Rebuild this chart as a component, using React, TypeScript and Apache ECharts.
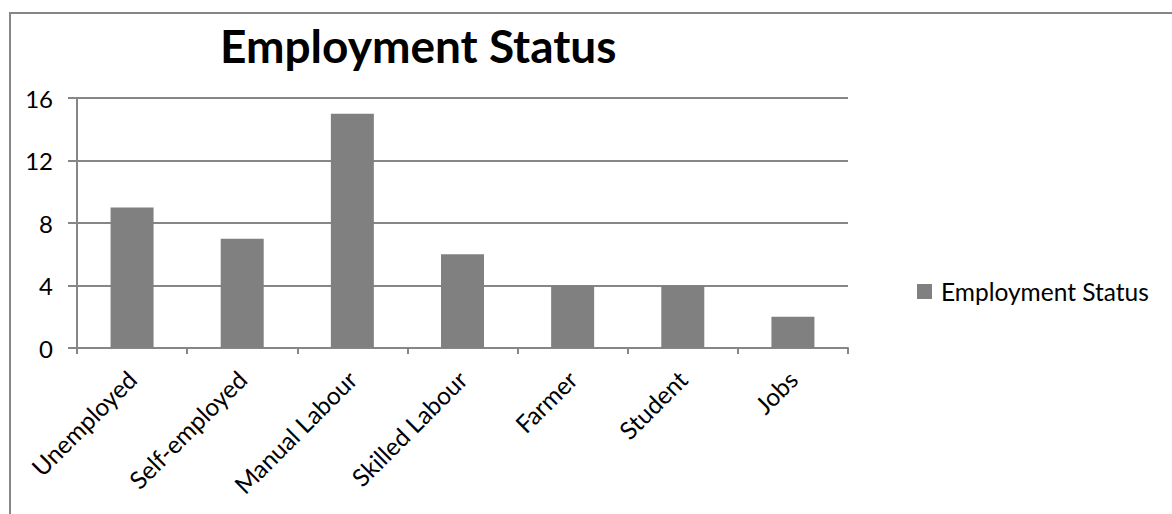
import React, { useEffect, useRef } from "react";
import * as echarts from "echarts";

const categories = ["Unemployed", "Self-employed", "Manual Labour", "Skilled Labour", "Farmer", "Student", "Jobs"];
const values = [9, 7, 15, 6, 4, 4, 2];
const seriesName = "Employment Status";
const titleText = "Employment Status";

const FONT = "Lato, 'Open Sans', sans-serif";
const GRAY = "#868686";

export default function App() {
  const ref = useRef<HTMLDivElement>(null);
  useEffect(() => {
    document.body.style.margin = "0";
    const chart = echarts.init(ref.current!, null, { renderer: "svg" });
    chart.setOption({
      animation: false,
      backgroundColor: "#ffffff",
      textStyle: { fontFamily: FONT },
      title: {
        text: titleText,
        left: 220,
        top: 22,
        padding: 0,
        textStyle: { fontFamily: FONT, fontWeight: "bold", fontSize: 46, color: "#000" },
      },
      graphic: [
        {
          type: "polyline",
          shape: { points: [[10, 520], [10, 13], [1180, 13]] },
          style: { stroke: GRAY, lineWidth: 2, fill: "none" },
          silent: true,
        },
      ],
      legend: {
        data: [seriesName],
        left: 912,
        top: 274,
        itemWidth: 15,
        itemHeight: 15,
        icon: "rect",
        textStyle: { fontFamily: FONT, fontSize: 24.5, color: "#000", padding: [0, 0, 0, 4] },
      },
      grid: { left: 77, right: 324, top: 98, bottom: 166, containLabel: false },
      xAxis: {
        type: "category",
        data: categories,
        axisLine: { show: true, lineStyle: { color: GRAY, width: 2 } },
        axisTick: { show: true, length: 6, lineStyle: { color: GRAY, width: 2 } },
        axisLabel: { rotate: 45, fontFamily: FONT, fontSize: 24.5, color: "#000", margin: 27, interval: 0 },
        splitLine: { show: false },
      },
      yAxis: {
        type: "value",
        min: 0,
        max: 16,
        interval: 4,
        axisLine: { show: true, lineStyle: { color: GRAY, width: 2 } },
        axisTick: { show: true, length: 9, lineStyle: { color: GRAY, width: 2 } },
        axisLabel: { fontFamily: FONT, fontSize: 24, color: "#000", margin: 24 },
        splitLine: { show: true, lineStyle: { color: GRAY, width: 2 } },
      },
      series: [
        {
          name: seriesName,
          type: "bar",
          data: values,
          barWidth: 43,
          itemStyle: { color: "#808080" },
        },
      ],
    });
    return () => chart.dispose();
  }, []);
  return <div ref={ref} style={{ width: 1172, height: 514 }} />;
}
